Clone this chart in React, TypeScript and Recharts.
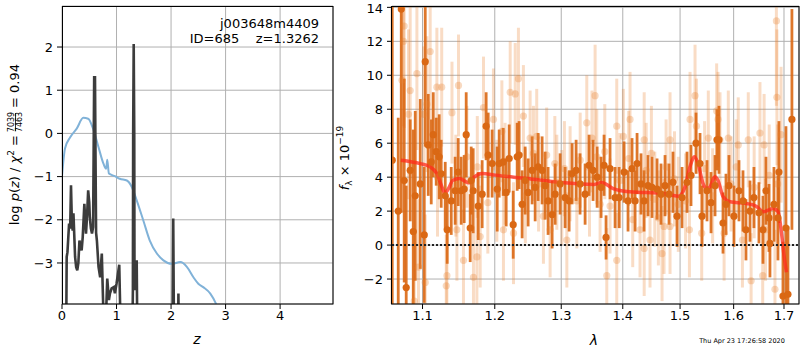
import {
	CartesianGrid,
	ComposedChart,
	ErrorBar,
	Line,
	LineChart,
	ReferenceLine,
	Scatter,
	XAxis,
	YAxis,
} from "recharts";

// left panel: redshift fit
const zTicks = [0, 1, 2, 3, 4];
const logpTicks = [-3, -2, -1, 0, 1, 2];

const chi2Z = [0, 0.055, 0.15, 0.27, 0.39, 0.48, 0.57, 0.67, 0.76, 0.81, 0.83, 0.86, 0.97, 1.06, 1.19, 1.28, 1.37, 1.49, 1.61, 1.74, 1.86, 2.01, 2.17, 2.29, 2.41, 2.5, 2.59, 2.72, 2.83, 2.9];
const chi2Y = [-1.0, -0.35, -0.09, 0.11, 0.36, 0.34, 0.11, -0.32, -0.7, -0.82, -0.61, -0.93, -0.99, -1.05, -1.09, -1.24, -1.55, -2.01, -2.48, -2.78, -2.94, -3.02, -2.98, -3.09, -3.33, -3.48, -3.56, -3.71, -3.96, -4.2];

const pzZ = [0.07, 0.086, 0.1, 0.13, 0.15, 0.165, 0.18, 0.196, 0.21, 0.24, 0.26, 0.28, 0.3, 0.32, 0.34, 0.36, 0.38, 0.41, 0.43, 0.44, 0.46, 0.48, 0.5, 0.51, 0.53, 0.55, 0.57, 0.58, 0.59, 0.605, 0.615, 0.625, 0.64, 0.67, 0.7, 0.73, 0.76, 0.8, 0.83, 0.86, 0.88, 0.91, 0.95, 0.97, 1.0, 1.05, 1.1, 1.28, 1.3, 1.305, 1.315, 1.325, 1.33, 1.35, 1.37, 1.39, 2.02, 2.04, 2.06, 2.12, 2.135, 2.15];
const pzY = [-6, -2.86, -2.75, -2.09, -2.2, -1.2, -2.0, -2.25, -1.85, -2.86, -3.1, -3.17, -3.0, -2.48, -2.6, -2.71, -2.4, -1.63, -2.1, -2.32, -1.9, -1.32, -1.6, -1.94, -2.2, -2.32, -2.17, -0.5, 1.3, 1.3, -0.6, -2.3, -2.48, -3.09, -3.33, -2.78, -4.2, -4.5, -3.36, -3.86, -3.7, -3.59, -3.56, -3.7, -3.48, -3.04, -6, -6, -3.63, 0, 2.07, 0, -3.63, -3.4, -2.94, -6, -6, -1.97, -6, -6, -3.71, -6];

// right panel: spectrum
const lamTicks = [1.1, 1.2, 1.3, 1.4, 1.5, 1.6, 1.7];
const fluxTicks = [-2, 0, 2, 4, 6, 8, 10, 12, 14];
const fluxDomain = [-3.47, 14.08];

const modelLam = [1.0717, 1.097, 1.11, 1.119, 1.126, 1.13, 1.135, 1.141, 1.15, 1.159, 1.164, 1.171, 1.182, 1.201, 1.2475, 1.2985, 1.3525, 1.365, 1.384, 1.412, 1.47, 1.497, 1.509, 1.518, 1.526, 1.533, 1.542, 1.549, 1.555, 1.564, 1.57, 1.58, 1.593, 1.625, 1.644, 1.658, 1.668, 1.678, 1.688, 1.695, 1.7, 1.705];
const modelFlux = [5.0, 4.8, 4.61, 4.22, 3.43, 3.04, 3.33, 3.82, 3.92, 3.73, 3.67, 4.02, 4.22, 4.12, 3.92, 3.69, 3.57, 3.69, 3.33, 3.14, 3.04, 2.88, 3.43, 4.61, 5.2, 4.8, 3.63, 3.33, 3.43, 4.02, 3.82, 2.84, 2.55, 2.45, 2.29, 1.96, 2.06, 2.16, 1.96, 0.69, -0.6, -1.6];

const darkLam = [1.0606, 1.0683, 1.0722, 1.076, 1.0786, 1.0838, 1.0878, 1.0904, 1.097, 1.1023, 1.1036, 1.1076, 1.1116, 1.1143, 1.1183, 1.1223, 1.125, 1.1305, 1.1332, 1.1387, 1.1441, 1.1483, 1.1524, 1.1566, 1.1594, 1.165, 1.1664, 1.1692, 1.1763, 1.1819, 1.1876, 1.1905, 1.1962, 1.2035, 1.2064, 1.2122, 1.2166, 1.221, 1.2269, 1.2328, 1.2357, 1.2402, 1.2447, 1.2492, 1.2552, 1.2598, 1.2643, 1.2704, 1.275, 1.2796, 1.2858, 1.2905, 1.2982, 1.3061, 1.3124, 1.3171, 1.3235, 1.3298, 1.3379, 1.3443, 1.3508, 1.3574, 1.3639, 1.3688, 1.3721, 1.3787, 1.3871, 1.3938, 1.4022, 1.4089, 1.4157, 1.4209, 1.4243, 1.4311, 1.4363, 1.4432, 1.4502, 1.459, 1.466, 1.4731, 1.4802, 1.4873, 1.4945, 1.5036, 1.5126, 1.5199, 1.5291, 1.5365, 1.5402, 1.5495, 1.557, 1.5645, 1.5682, 1.572, 1.5796, 1.5853, 1.591, 1.6006, 1.6103, 1.6181, 1.6239, 1.6318, 1.6396, 1.6495, 1.6575, 1.6635, 1.6695, 1.6715, 1.6796, 1.6877, 1.6897, 1.6979, 1.704, 1.7081, 1.7163];
const darkFlux = [5.0, 2.0, 13.9, 3.8, -2.5, 4.4, 0.8, 2.9, 3.6, 0.6, 10.8, 5.9, 4.9, 6.5, 5.5, 5.2, 4.2, 2.9, 0.9, 2.6, 3.2, 4.3, 3.2, 3.3, 6.5, 1.0, 3.8, 3.2, 2.3, 3.0, 7.0, 5.3, 4.8, 3.3, 4.8, 4.9, 3.1, 5.1, 1.2, 5.2, 5.3, 2.4, 3.8, 3.1, 4.4, 3.4, 4.6, 4.4, 3.5, 2.6, 1.8, 3.0, 3.6, 2.8, 2.6, 4.2, 4.4, 3.6, 3.0, 4.7, 4.4, 4.0, 3.4, 4.7, 0.45, 4.5, 2.8, 2.8, 4.3, 2.6, 4.5, 2.6, 4.8, 3.6, 2.6, 3.5, 3.4, 3.3, 3.0, 3.5, 3.0, 3.7, 1.7, 2.8, 3.7, 4.1, 6.0, 4.8, 1.7, 3.2, 2.5, 3.5, 6.2, 6.2, 1.3, 2.4, 3.5, 1.7, 3.2, 2.6, 0.9, 2.0, 2.8, 1.9, 0.9, 3.2, 1.6, 0.1, 2.4, 1.6, 4.3, -3.0, 1.0, -2.9, 7.4];
const darkErr = [12, 5.5, 12, 6, 6, 3, 6, 5, 5, 4, 5, 3, 2.5, 2.5, 2, 2.5, 2, 2, 2, 2, 2, 2, 2, 2, 2.5, 2, 2, 2.5, 2, 2, 2, 2.5, 2, 2.5, 2, 2, 2, 2, 2, 2, 2, 2, 2, 2, 2, 2, 2, 2, 2, 2, 2, 1.8, 1.8, 1.8, 1.8, 1.8, 1.8, 1.8, 1.8, 1.8, 1.8, 1.8, 1.8, 1.8, 1.3, 1.8, 1.8, 1.8, 1.8, 1.8, 1.8, 1.8, 1.8, 1.8, 1.8, 1.8, 1.8, 1.8, 1.8, 1.8, 1.8, 1.8, 1.8, 1.8, 1.8, 1.8, 1.8, 1.8, 1.8, 1.8, 1.8, 1.8, 1.8, 2, 1.8, 1.8, 1.8, 1.8, 1.8, 1.8, 1.8, 1.8, 1.8, 1.8, 2, 2, 2, 2, 2.2, 2.5, 3, 3.2, 6, 4, 6.5];

const lightLam = [1.0731, 1.076, 1.0751, 1.0816, 1.0838, 1.0926, 1.0891, 1.0947, 1.1036, 1.1013, 1.1058, 1.1102, 1.12, 1.1192, 1.1257, 1.1328, 1.1319, 1.1397, 1.145, 1.1487, 1.1465, 1.1556, 1.1604, 1.1696, 1.175, 1.1744, 1.1791, 1.1838, 1.19, 1.1981, 1.203, 1.2103, 1.2126, 1.215, 1.2225, 1.2299, 1.2347, 1.2274, 1.2421, 1.245, 1.2522, 1.2572, 1.2622, 1.265, 1.2724, 1.2774, 1.2827, 1.29, 1.2931, 1.3009, 1.305, 1.3088, 1.314, 1.3246, 1.33, 1.345, 1.3406, 1.349, 1.3541, 1.3569, 1.3623, 1.37, 1.3733, 1.3787, 1.3899, 1.3899, 1.395, 1.401, 1.41, 1.4123, 1.4169, 1.4294, 1.4366, 1.4366, 1.44, 1.4467, 1.4491, 1.455, 1.4613, 1.4678, 1.4713, 1.475, 1.482, 1.482, 1.49, 1.4968, 1.51, 1.5181, 1.517, 1.5273, 1.5299, 1.5396, 1.545, 1.5519, 1.56, 1.5676, 1.5702, 1.5739, 1.5817, 1.5897, 1.595, 1.605, 1.6089, 1.617, 1.6284, 1.634, 1.64, 1.6515, 1.657, 1.6598, 1.6626, 1.67, 1.6816, 1.6845, 1.6855, 1.6871, 1.694];
const lightFlux = [9.7, 12.9, 12.0, 7.7, 9.1, 10.1, -3.3, -1.3, -2.2, 7.7, 8.3, 11.4, 4.0, 9.3, 9.3, -1.8, -2.4, 7.8, 3.5, 9.4, 0.9, -0.9, 5.2, -1.9, 4.6, -0.7, 0.5, 8.1, 2.5, 7.4, 3.2, 6.7, 0.9, 4.2, 9.0, 8.9, 9.8, 0.7, 7.6, 2.9, 6.3, 5.4, 6.4, 3.6, 1.7, 5.3, 0.9, 4.8, 3.7, 2.8, 4.5, 0.3, 4.2, 2.6, 5.0, 3.3, 7.2, 6.3, 8.8, 5.2, 2.4, 5.5, -1.8, 2.3, 7.0, -0.9, 3.8, 6.4, 5.1, 7.4, 1.5, 0.9, 6.2, -0.2, 4.4, 0.3, 5.4, 2.7, 1.6, -0.5, 1.1, 4.6, 6.2, 1.1, 3.9, 2.4, 2.6, 7.4, 0.9, 8.8, 7.0, 0.7, 4.5, 6.3, 2.9, 7.9, 7.4, 6.2, 0.7, 6.3, 3.6, 4.6, 5.9, 0.3, 6.2, -2.1, 3.4, 6.6, -1.8, 5.9, 0.9, 4.1, -2.6, 13.2, 8.7, 3.6, 6.5];
const lightErr = [6, 6, 5, 5, 5, 4.5, 4, 4, 4, 4, 4, 4, 3.5, 3.5, 3.5, 3, 3, 3, 3, 3, 3, 3, 3, 3, 3, 3, 3, 3, 3, 3, 3, 3, 3, 3, 3, 3, 3, 3, 3, 2.8, 2.8, 2.8, 2.8, 2.8, 2.8, 2.8, 2.8, 2.8, 2.8, 2.8, 2.8, 2.8, 2.8, 2.8, 2.8, 2.8, 2.8, 2.8, 3, 2.8, 2.8, 2.8, 2.8, 2.8, 2.8, 2.8, 2.8, 2.8, 2.8, 2.8, 2.8, 2.8, 2.8, 2.8, 2.8, 2.8, 2.8, 2.8, 2.8, 2.8, 2.8, 2.8, 2.8, 2.8, 2.8, 2.8, 2.8, 2.8, 2.8, 3, 2.8, 2.8, 2.8, 2.8, 2.8, 2.8, 2.8, 2.8, 2.8, 2.8, 2.8, 2.8, 2.8, 2.8, 2.8, 2.8, 3, 3, 3, 3, 3, 3, 3.5, 5, 4, 3.5, 4];

const zip = (xs: number[], ys: number[], key: string) =>
	xs.map((x, i) => ({ x, [key]: ys[i] }));

// error bars are cut at the frame, like matplotlib's clipping
const clipErr = (f: number, e: number) => [
	Math.max(0, Math.min(e, f - fluxDomain[0])),
	Math.max(0, Math.min(e, fluxDomain[1] - f)),
];

const chi2Data = zip(chi2Z, chi2Y, "y");
const pzData = zip(pzZ, pzY, "y");
const modelData = zip(modelLam, modelFlux, "f");
const darkData = darkLam.map((x, i) => ({ x, f: darkFlux[i], e: clipErr(darkFlux[i], darkErr[i]) }));
const lightData = lightLam.map((x, i) => ({ x, f: lightFlux[i], e: clipErr(lightFlux[i], lightErr[i]) }));

const FONT = "DejaVu Sans, sans-serif";
const tickStyle = { fill: "#000", fontSize: 13, fontFamily: FONT };
const minus = (v: number) => String(v).replace("-", "\u2212");

const orange = "#da6814";

export default function App() {
	return (
		<div style={{ position: "absolute", left: 0, top: 0, width: 800, height: 350, background: "#fff" }}>
			<div style={{ position: "absolute", left: 0, top: 0 }}>
				<LineChart width={340} height={350} margin={{ top: 6, right: 7, bottom: 0, left: 0 }}>
					<CartesianGrid stroke="#b0b0b0" strokeWidth={1} />
					<XAxis
						dataKey="x"
						type="number"
						domain={[0, 4.97]}
						ticks={zTicks}
						allowDataOverflow
						height={46}
						axisLine={false}
						tickLine={{ stroke: "#000" }}
						tickSize={5}
						tick={tickStyle}
						tickFormatter={minus}
					/>
					<YAxis
						type="number"
						domain={[-3.95, 2.95]}
						ticks={logpTicks}
						allowDataOverflow
						width={62}
						axisLine={false}
						tickLine={{ stroke: "#000" }}
						tickSize={5}
						tickMargin={4}
						tick={tickStyle}
						tickFormatter={minus}
					/>
					<Line data={chi2Data} dataKey="y" type="monotone" stroke="#80b2d8" strokeWidth={2} dot={false} isAnimationActive={false} />
					<Line data={pzData} dataKey="y" type="linear" stroke="#3c3c3c" strokeWidth={2.6} dot={false} isAnimationActive={false} />
				</LineChart>
			</div>
			<div style={{ position: "absolute", left: 340, top: 0 }}>
				<ComposedChart width={460} height={350} margin={{ top: 6, right: 1, bottom: 0, left: 0 }}>
					<CartesianGrid stroke="#b0b0b0" strokeWidth={1} />
					<XAxis
						dataKey="x"
						type="number"
						scale="log"
						domain={[1.0603, 1.731]}
						ticks={lamTicks}
						allowDataOverflow
						height={46}
						axisLine={false}
						tickLine={{ stroke: "#000" }}
						tickSize={5}
						tick={tickStyle}
					/>
					<YAxis
						type="number"
						domain={fluxDomain}
						ticks={fluxTicks}
						allowDataOverflow
						width={52}
						axisLine={false}
						tickLine={{ stroke: "#000" }}
						tickSize={5}
						tickMargin={4}
						tick={tickStyle}
						tickFormatter={minus}
					/>
					<Scatter
						data={lightData}
						dataKey="f"
						isAnimationActive={false}
						shape={(p: any) => <circle cx={p.cx} cy={p.cy} r={3.6} fill="#e8822f" fillOpacity={0.3} />}
					>
						<ErrorBar dataKey="e" direction="y" width={0} stroke="#e8822f" strokeOpacity={0.28} strokeWidth={3} isAnimationActive={false} />
					</Scatter>
					<Scatter
						data={darkData}
						dataKey="f"
						isAnimationActive={false}
						shape={(p: any) => <circle cx={p.cx} cy={p.cy} r={3.6} fill={orange} />}
					>
						<ErrorBar dataKey="e" direction="y" width={0} stroke={orange} strokeOpacity={0.9} strokeWidth={2.8} isAnimationActive={false} />
					</Scatter>
					<Line data={modelData} dataKey="f" type="monotone" stroke="#ff2a1a" strokeOpacity={0.75} strokeWidth={3.5} dot={false} isAnimationActive={false} />
					<ReferenceLine y={0} stroke="#222" strokeWidth={2} strokeDasharray="2 2" />
				</ComposedChart>
			</div>
			<svg
				width={800}
				height={350}
				style={{ position: "absolute", left: 0, top: 0, pointerEvents: "none", fontFamily: FONT }}
			>
				<rect x={62.5} y={6.5} width={270.5} height={297.5} fill="none" stroke="#000" strokeWidth={1} />
				<rect x={391.5} y={6.5} width={407.5} height={297.5} fill="none" stroke="#000" strokeWidth={1} />
				<text x={319} y={28} textAnchor="end" fontSize={13}>j003648m4409</text>
				<text x={319} y={43} textAnchor="end" fontSize={13} style={{ whiteSpace: "pre" }}>ID=685    z=1.3262</text>
				<g transform="translate(18.5,0) rotate(-90)" fontSize={13}>
					<text x={-135} y={0} textAnchor="end">
						log <tspan fontStyle="italic">p</tspan>(<tspan fontStyle="italic">z</tspan>) / <tspan fontStyle="italic">χ</tspan>
						<tspan fontSize={9} dy={-5}>2</tspan>
						<tspan dy={5}> =</tspan>
					</text>
					<text x={-122} y={-4.5} textAnchor="middle" fontSize={8}>7039</text>
					<line x1={-131} x2={-113} y1={-3} y2={-3} stroke="#000" strokeWidth={0.8} />
					<text x={-122} y={3.5} textAnchor="middle" fontSize={8}>7463</text>
					<text x={-108} y={0} textAnchor="start">= 0.94</text>
				</g>
				<text x={197} y={344} textAnchor="middle" fontSize={14} fontStyle="italic">z</text>
				<g transform="translate(349,158) rotate(-90)" fontSize={13}>
					<text x={0} y={0} textAnchor="middle">
						<tspan fontStyle="italic">f</tspan>
						<tspan fontSize={9} dy={3}>λ</tspan>
						<tspan dy={-3}> × 10</tspan>
						<tspan fontSize={9} dy={-6}>−19</tspan>
					</text>
				</g>
				<text x={594} y={345} textAnchor="middle" fontSize={14} fontStyle="italic">λ</text>
				<text x={742} y={343} textAnchor="middle" fontSize={6.5}>Thu Apr 23 17:26:58 2020</text>
			</svg>
		</div>
	);
}
